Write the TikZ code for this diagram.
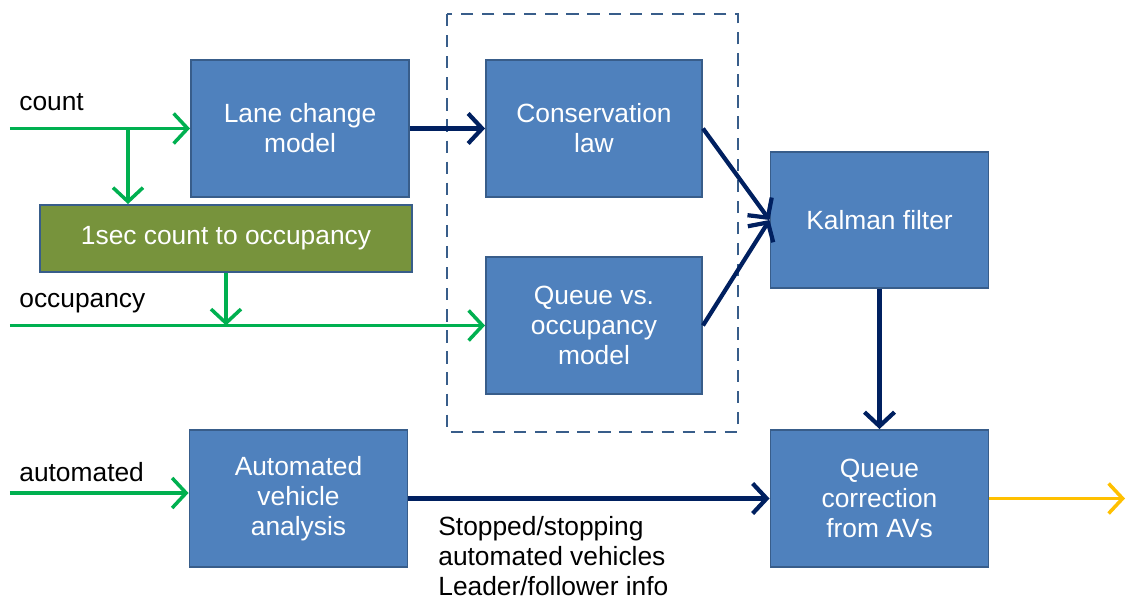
\documentclass[tikz,border=0pt]{standalone}
\usepackage{fontspec}
\setmainfont{Liberation Sans}
\usepackage{xcolor}
\usepackage{tikz}
\usetikzlibrary{arrows.meta, positioning, calc}

\definecolor{boxblue}{HTML}{4F81BD}
\definecolor{boxedge}{HTML}{385D8A}
\definecolor{olivebox}{HTML}{77933C}
\definecolor{sigGreen}{HTML}{00B050}
\definecolor{navy}{HTML}{002060}
\definecolor{outYellow}{HTML}{FFC000}

\begin{document}
\begin{tikzpicture}[font=\fontsize{15}{17}\selectfont]

		\tikzstyle{blockb}=[rectangle, draw=boxedge, line width=1.1pt, fill=boxblue, text=white, minimum width=4.36cm, minimum height=2.74cm, align=center, inner sep=2pt]
		\tikzstyle{blockg}=[blockb, fill=olivebox, minimum width=7.44cm, minimum height=1.34cm]
		\tikzstyle{gline}=[draw=sigGreen, line width=2pt, -{Straight Barb[length=2.8mm, width=6mm, line width=2pt]}]
		\tikzstyle{nline}=[draw=navy, line width=2.4pt, -{Straight Barb[length=2.8mm, width=6mm, line width=2.4pt]}]
		\tikzstyle{yline}=[draw=outYellow, line width=2pt, -{Straight Barb[length=2.8mm, width=6mm, line width=2pt]}]
		\tikzstyle{lbl}=[anchor=west, inner sep=0pt]

		\useasboundingbox (0,0) rectangle (22.52,-12.02);

		% dashed frame round the two models
		\draw [draw=boxedge, line width=1.1pt, dash pattern=on 7pt off 5pt] (8.94,-0.28) rectangle (14.76,-8.64);

		\node (lane) at (6.0,-2.57) [blockb] {Lane change\\model};
		\node (occ) at (4.52,-4.77) [blockg] {1sec count to occupancy};
		\node (cons) at (11.88,-2.57) [blockb, minimum width=4.32cm] {Conservation\\law};
		\node (queue) at (11.88,-6.51) [blockb, minimum width=4.32cm] {Queue vs.\\occupancy\\model};
		\node (kalman) at (17.59,-4.4) [blockb, minimum height=2.72cm] {Kalman filter};
		\node (av) at (5.97,-9.97) [blockb] {Automated\\vehicle\\analysis};
		\node (corr) at (17.59,-9.97) [blockb] {Queue\\correction\\from AVs};

		% inputs
		\coordinate (cntin) at (0.2,-2.57);
		\coordinate (cntbr) at (2.56,-2.57);
		\coordinate (occin) at (0.2,-6.51);
		\coordinate (autin) at (0.2,-9.86);
		\coordinate (qout) at (22.5,-9.97);

		\node [lbl] at (0.38,-2.04) {count};
		\node [lbl] at (0.38,-6.06) {occupancy};
		\node [lbl] at (0.38,-9.44) {automated};

		\draw [gline] (cntin) -- (lane.west);
		\draw [gline] (cntbr) -- (cntbr |- occ.north);
		\draw [gline] (occin) -- (queue.west);
		\draw [gline] (occ.south) -- (occ.south |- occin);
		\draw [gline] (autin) -- (av.west |- autin);

		\draw [nline] (lane.east) -- (cons.west);
		\draw [nline] (cons.east) -- (kalman.west);
		\draw [nline] (queue.east) -- (kalman.west);
		\draw [nline] (kalman.south) -- (corr.north);
		\draw [nline] (av.east) -- (corr.west);

		\draw [yline] (corr.east) -- (qout);

		\node [anchor=north west, align=left, inner sep=0pt] (avinfo) at (8.76,-10.32) {Stopped/stopping\\automated vehicles\\Leader/follower info};

\end{tikzpicture}
\end{document}
